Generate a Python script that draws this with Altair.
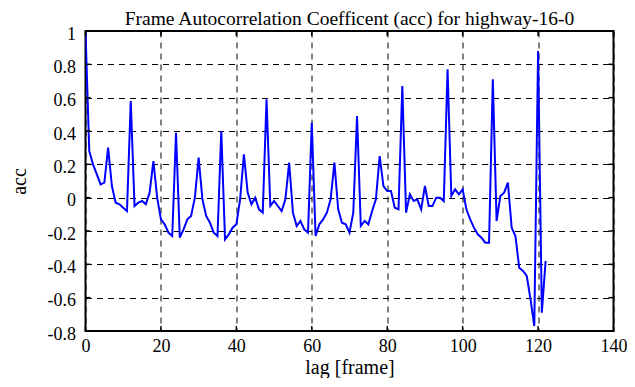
import altair as alt
import pandas as pd

TITLE = "Frame Autocorrelation Coefficent (acc) for highway-16-0"
X_LABEL = "lag [frame]"
Y_LABEL = "acc"

ACC = [1.0, 0.28, 0.20, 0.14, 0.08, 0.09, 0.30, 0.07, -0.03, -0.04,
       -0.06, -0.08, 0.58, -0.05, -0.03, -0.02, -0.04, 0.03, 0.22, 0.0,
       -0.13, -0.16, -0.21, -0.23, 0.39, -0.24, -0.19, -0.13, -0.11, 0.0,
       0.24, -0.01, -0.11, -0.15, -0.21, -0.23, 0.40, -0.25, -0.22, -0.18,
       -0.16, -0.01, 0.26, 0.03, -0.04, 0.0, -0.07, -0.09, 0.59, -0.05,
       -0.02, -0.05, -0.08, -0.01, 0.21, -0.09, -0.17, -0.14, -0.19, -0.21,
       0.45, -0.23, -0.16, -0.13, -0.09, -0.01, 0.21, -0.07, -0.15, -0.16,
       -0.21, -0.09, 0.49, -0.17, -0.14, -0.16, -0.08, -0.01, 0.25, 0.07,
       0.04, 0.04, -0.06, -0.07, 0.67, -0.09, 0.02, -0.02, -0.01, -0.07,
       0.07, -0.05, -0.05, 0.0, 0.0, -0.02, 0.77, 0.01, 0.05, 0.02,
       0.05, -0.07, -0.13, -0.18, -0.22, -0.24, -0.27, -0.27, 0.71, -0.14,
       0.01, 0.03, 0.09, -0.18, -0.23, -0.42, -0.44, -0.47, -0.61, -0.77,
       0.88, -0.69, -0.38]
LAG = list(range(len(ACC)))

X_TICKS = [0, 20, 40, 60, 80, 100, 120, 140]
Y_TICKS = [-0.8, -0.6, -0.4, -0.2, 0, 0.2, 0.4, 0.6, 0.8, 1]

W, H = 528, 300
FONT = "Liberation Serif"

df = pd.DataFrame({"lag": LAG, "acc": ACC})
xt = pd.DataFrame({"lag": X_TICKS})
yt = pd.DataFrame({"acc": Y_TICKS})

xscale = alt.Scale(domain=[0, 140], nice=False, zero=False)
yscale = alt.Scale(domain=[-0.8, 1], nice=False, zero=False)

label_expr = "replace(format(datum.value, '~g'), '\u2212', '-')"
grid = dict(grid=True, gridDash=[6, 5], gridColor="black", gridOpacity=1,
            gridWidth=1, domain=False, ticks=False, labelOverlap=False,
            labelFlush=False, labelFont=FONT, labelFontSize=18,
            labelColor="black", titleFont=FONT, titleFontSize=20,
            titleColor="black", titleFontWeight="normal",
            labelExpr=label_expr)

xaxis = alt.Axis(values=X_TICKS, labelBaseline="alphabetic", labelPadding=20,
                 titleBaseline="alphabetic", titleY=42, **grid)
yaxis = alt.Axis(values=Y_TICKS, labelPadding=10, labelOffset=3,
                 titleBaseline="alphabetic", titleX=-60, titleY=H / 2,
                 titleAngle=-90, titleAlign="center", **grid)

X = alt.X("lag:Q", scale=xscale, title=X_LABEL, axis=xaxis)
Y = alt.Y("acc:Q", scale=yscale, title=Y_LABEL, axis=yaxis)

line = alt.Chart(df).mark_line(color="#0000ff", strokeWidth=2, clip=True).encode(x=X, y=Y)

tk = dict(color="black", strokeWidth=1.5)
xb = alt.Chart(xt).mark_rule(**tk).encode(x=X, y=alt.value(H), y2=alt.value(H - 5))
xtop = alt.Chart(xt).mark_rule(**tk).encode(x=X, y=alt.value(0), y2=alt.value(5))
yl = alt.Chart(yt).mark_rule(**tk).encode(y=Y, x=alt.value(0), x2=alt.value(5))
yr = alt.Chart(yt).mark_rule(**tk).encode(y=Y, x=alt.value(W), x2=alt.value(W - 5))

chart = alt.layer(line, xb, xtop, yl, yr).properties(
    width=W, height=H,
    title=alt.TitleParams(TITLE, font=FONT, fontSize=19.5, fontWeight="normal",
                          color="black", anchor="middle", frame="group",
                          offset=2, dy=6),
    autosize=alt.AutoSizeParams(type="none"),
    padding={"left": 77.5, "top": 23, "right": 13.5, "bottom": 47},
).configure_axis(
    labelFont=FONT, titleFont=FONT,
).configure_view(stroke="black", strokeWidth=2)

chart.save("out.html", embed_options={"renderer": "svg", "actions": False})
